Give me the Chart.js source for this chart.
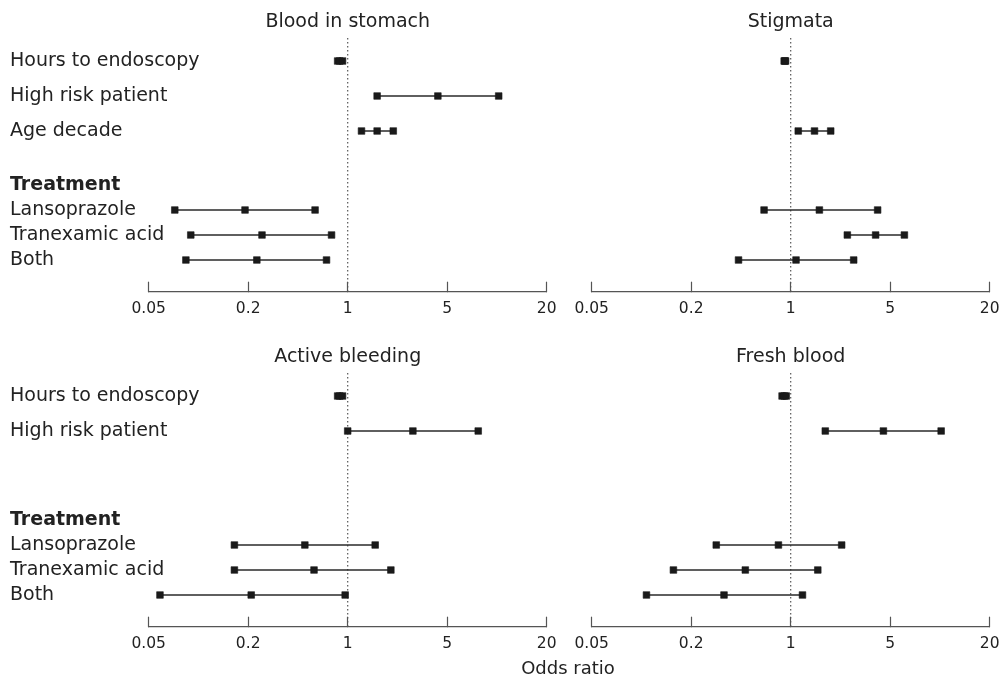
<!DOCTYPE html>
<html>
<head>
<meta charset="utf-8">
<script src="https://cdn.jsdelivr.net/npm/chart.js@4.4.1/dist/chart.umd.min.js"></script>
<style>
  body { margin: 0; background: #fff; width: 1000px; height: 676px; position: relative; overflow: hidden; font-family: "DejaVu Sans", sans-serif; }
  canvas { position: absolute; }
  #xlabel { position: absolute; left: 468px; width: 200px; top: 657px; text-align: center; font-size: 18px; line-height: 22px; color: #222; }
</style>
</head>
<body>
<canvas id="c-blood" width="570" height="330" style="left:0;top:0"></canvas>
<canvas id="c-stig" width="430" height="330" style="left:570px;top:0"></canvas>
<canvas id="c-active" width="570" height="341" style="left:0;top:335px"></canvas>
<canvas id="c-fresh" width="430" height="341" style="left:570px;top:335px"></canvas>
<div id="xlabel">Odds ratio</div>
<script>
const rowLabels = ['Hours to endoscopy', 'High risk patient', 'Age decade', 'Treatment', 'Lansoprazole', 'Tranexamic acid', 'Both'];
const tickValues = [0.04, 0.2, 1, 5, 25];
const tickLabels = ['0.05', '0.2', '1', '5', '20'];
const refOR = [1];

// odds ratio with lower / upper limits, one entry per row (null = not shown)
const bloodLow  = [0.85, 1.61, 1.25, null, 0.061, 0.079, 0.073];
const bloodOR   = [0.88, 4.30, 1.61, null, 0.19, 0.25, 0.23];
const bloodHigh = [0.92, 11.5, 2.09, null, 0.59, 0.77, 0.71];

const stigLow  = [0.90, null, 1.13, null, 0.65, 2.50, 0.43];
const stigOR   = [0.91, null, 1.47, null, 1.59, 3.95, 1.09];
const stigHigh = [0.92, null, 1.91, null, 4.08, 6.29, 2.77];

const activeLow  = [0.85, 1.00, null, null, 0.16, 0.16, 0.048];
const activeOR   = [0.88, 2.87, null, null, 0.50, 0.58, 0.21];
const activeHigh = [0.92, 8.26, null, null, 1.56, 2.01, 0.96];

const freshLow  = [0.87, 1.75, null, null, 0.30, 0.15, 0.097];
const freshOR   = [0.90, 4.48, null, null, 0.82, 0.48, 0.34];
const freshHigh = [0.93, 11.4, null, null, 2.28, 1.55, 1.21];

// layout: vertical slot of each row (px below first row)
const rowY = [0, 35, 70, 124, 149, 174, 199];
const Y_MIN = -23;
const Y_MAX = 230.7;
const FONT = 'DejaVu Sans';
const INK = '#222';

function makePanel(id, title, low, est, high, withLabels, pad) {
  const datasets = [{
    data: [{ x: refOR[0], y: Y_MIN }, { x: refOR[0], y: Y_MAX }],
    showLine: true,
    borderColor: '#555',
    borderWidth: 1.2,
    borderDash: [1.5, 2.5],
    pointRadius: 0,
    order: 2
  }];
  est.forEach((v, i) => {
    if (v == null) return;
    datasets.push({
      data: [low[i], v, high[i]].map(x => ({ x, y: rowY[i] })),
      showLine: true,
      borderColor: '#2a2a2a',
      borderWidth: 1.4,
      pointStyle: 'rect',
      pointRadius: 4.7,
      pointBackgroundColor: '#1a1a1a',
      pointBorderColor: '#1a1a1a',
      pointBorderWidth: 0.6,
      order: 1
    });
  });

  const yAxis = {
    type: 'linear',
    reverse: true,
    min: Y_MIN,
    max: Y_MAX,
    display: withLabels,
    grid: { display: false, drawTicks: false },
    border: { display: false }
  };
  if (withLabels) {
    // labels run past the 0.05 tick, so draw them mirrored (unclipped) from the left edge
    yAxis.afterBuildTicks = s => { s.ticks = rowY.map(value => ({ value })); };
    yAxis.afterFit = s => { s.width = 138.7; s.paddingTop = 0; s.paddingBottom = 0; };
    yAxis.ticks = {
      autoSkip: false,
      mirror: true,
      crossAlign: 'near',
      padding: -138.7,
      color: INK,
      callback: (v, i) => (rowLabels[i] === 'Treatment' || est[i] != null) ? rowLabels[i] : '',
      font: ctx => ({ family: FONT, size: 19, weight: rowLabels[ctx.index] === 'Treatment' ? 'bold' : 'normal' })
    };
  }

  return new Chart(document.getElementById(id), {
    type: 'scatter',
    data: { datasets },
    options: {
      responsive: false,
      animation: false,
      layout: { padding: pad },
      plugins: { legend: { display: false }, tooltip: { enabled: false } },
      scales: {
        x: {
          type: 'logarithmic',
          position: 'bottom',
          min: tickValues[0],
          max: tickValues[tickValues.length - 1],
          afterBuildTicks: s => { s.ticks = tickValues.map(value => ({ value })); },
          afterFit: s => { s.height = 30; s.paddingLeft = 0; s.paddingRight = 0; },
          ticks: {
            autoSkip: false,
            maxRotation: 0,
            padding: 17.5,
            color: INK,
            font: { family: FONT, size: 15.5 },
            callback: (v, i) => tickLabels[i]
          },
          grid: { drawOnChartArea: false, drawTicks: true, tickLength: -10, tickColor: '#555', tickWidth: 1.2 },
          border: { display: true, color: '#555', width: 1.2 }
        },
        x2: {
          type: 'linear',
          position: 'top',
          ticks: { display: false },
          grid: { display: false, drawTicks: false },
          border: { display: false },
          title: { display: true, text: title, color: INK, font: { family: FONT, size: 19 }, padding: { top: 10.3, bottom: 0 } },
          afterFit: s => { s.height = 38; s.paddingLeft = 0; s.paddingRight = 0; }
        },
        y: yAxis
      }
    }
  });
}

makePanel('c-blood', 'Blood in stomach', bloodLow, bloodOR, bloodHigh, true, { left: 10, right: 23.3, top: 0, bottom: 8.3 });
makePanel('c-stig', 'Stigmata', stigLow, stigOR, stigHigh, false, { left: 21.7, right: 10.3, top: 0, bottom: 8.3 });
makePanel('c-active', 'Active bleeding', activeLow, activeOR, activeHigh, true, { left: 10, right: 23.3, top: 0, bottom: 19.3 });
makePanel('c-fresh', 'Fresh blood', freshLow, freshOR, freshHigh, false, { left: 21.7, right: 10.3, top: 0, bottom: 19.3 });
</script>
</body>
</html>
